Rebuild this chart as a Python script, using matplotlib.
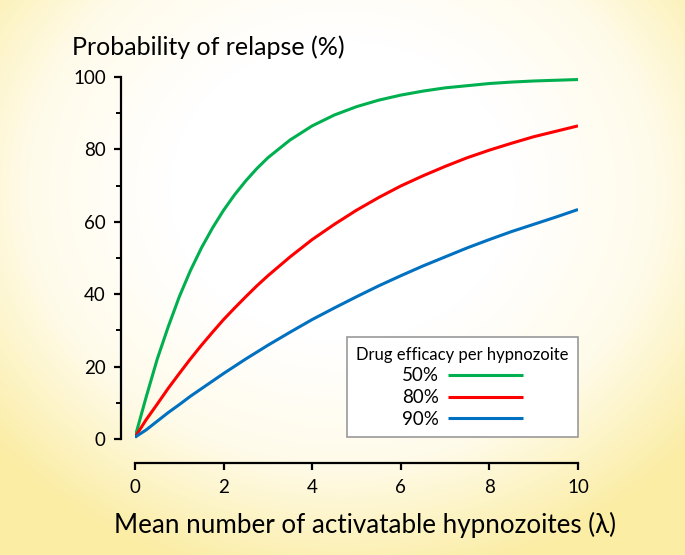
import numpy as np
import matplotlib
matplotlib.use("Agg")
import matplotlib.pyplot as plt
from matplotlib.colors import LinearSegmentedColormap

plt.rcParams['font.family'] = ['Lato', 'DejaVu Sans']

# values
lam = [0, 0.25, 0.5, 0.75, 1, 1.25, 1.5, 1.75, 2, 2.25, 2.5, 2.75, 3, 3.5, 4,
       4.5, 5, 5.5, 6, 6.5, 7, 7.5, 8, 8.5, 9, 9.5, 10]
p50 = [0.5, 11.5, 22, 31, 39.3, 46.5, 52.8, 58.3, 63.2, 67.5, 71.3, 74.7, 77.7, 82.6, 86.5,
       89.5, 91.8, 93.6, 95, 96.1, 97, 97.6, 98.2, 98.6, 98.9, 99.1, 99.3]
p80 = [0.5, 5.3, 9.6, 14, 18.1, 22.1, 25.9, 29.5, 33, 36.2, 39.3, 42.3, 45.1, 50.3, 55.1,
       59.3, 63.2, 66.7, 69.9, 72.7, 75.3, 77.7, 79.8, 81.7, 83.5, 85, 86.5]
p90 = [0.5, 2.5, 4.9, 7.3, 9.5, 11.8, 13.9, 16, 18.1, 20.1, 22.1, 24, 25.9, 29.5, 33,
       36.2, 39.3, 42.3, 45.1, 47.8, 50.3, 52.8, 55.1, 57.3, 59.3, 61.3, 63.4]
labels = ['50%', '80%', '90%']
colors = ['#00B050', '#FF0000', '#0070C0']
xticks = [0, 2, 4, 6, 8, 10]
yticks = [0, 20, 40, 60, 80, 100]

fig = plt.figure(figsize=(6.85, 5.55), dpi=100)

# radial yellow background
bg = fig.add_axes([0, 0, 1, 1], zorder=-10)
yy, xx = np.mgrid[0:555, 0:685]
d = np.sqrt(((xx - 342) / 380.0) ** 2 + ((yy - 190) / 330.0) ** 2)
t = np.clip((d - 0.45) / 0.75, 0, 1)
cmap = LinearSegmentedColormap.from_list('bgc', ['#FFFFFF', '#FFFBEA', '#FBEDA4'])
bg.imshow(t, cmap=cmap, aspect='auto', vmin=0, vmax=1, interpolation='bilinear')
bg.axis('off')

ax = fig.add_axes([135 / 685., 1 - 439 / 555., (578 - 135) / 685., (439 - 77) / 555.])
ax.patch.set_alpha(0)
for y, lab, c in zip([p50, p80, p90], labels, colors):
    ax.plot(lam, y, color=c, lw=2.2, label=lab, solid_capstyle='butt', solid_joinstyle='round')

ax.set_xlim(0, 10)
ax.set_ylim(0, 100)
ax.spines['top'].set_visible(False)
ax.spines['right'].set_visible(False)
ax.spines['left'].set_position(('outward', 10))
ax.spines['bottom'].set_position(('outward', 17))
ax.spines['left'].set_linewidth(1.6)
ax.spines['bottom'].set_linewidth(1.6)
ax.set_xticks(xticks)
ax.set_yticks(yticks)
ax.set_yticks(np.arange(10, 100, 20), minor=True)
ax.tick_params(axis='both', which='major', direction='out', length=5, width=1.6, labelsize=13.5)
ax.tick_params(axis='y', which='minor', direction='out', length=3.5, width=1.4)
ax.tick_params(axis='x', pad=7)
ax.tick_params(axis='y', pad=6)

ax.set_xlabel('Mean number of activatable hypnozoites (λ)', fontsize=18.7, labelpad=8)
ax.xaxis.set_label_coords(0.52, -0.2)
fig.text(72 / 685., 1 - 47 / 555., 'Probability of relapse (%)', fontsize=18, va='center', ha='left')

leg = ax.legend(loc='lower right', bbox_to_anchor=(1.0, 0.005), borderaxespad=0, markerfirst=False,
                title='Drug efficacy per hypnozoite', title_fontsize=12, fontsize=13.5,
                fancybox=False, framealpha=1, edgecolor='#999999', handlelength=4.0,
                handletextpad=0.5, labelspacing=0.25, borderpad=0.5)
leg.get_frame().set_linewidth(1.2)

fig.savefig('out.png', dpi=100)
